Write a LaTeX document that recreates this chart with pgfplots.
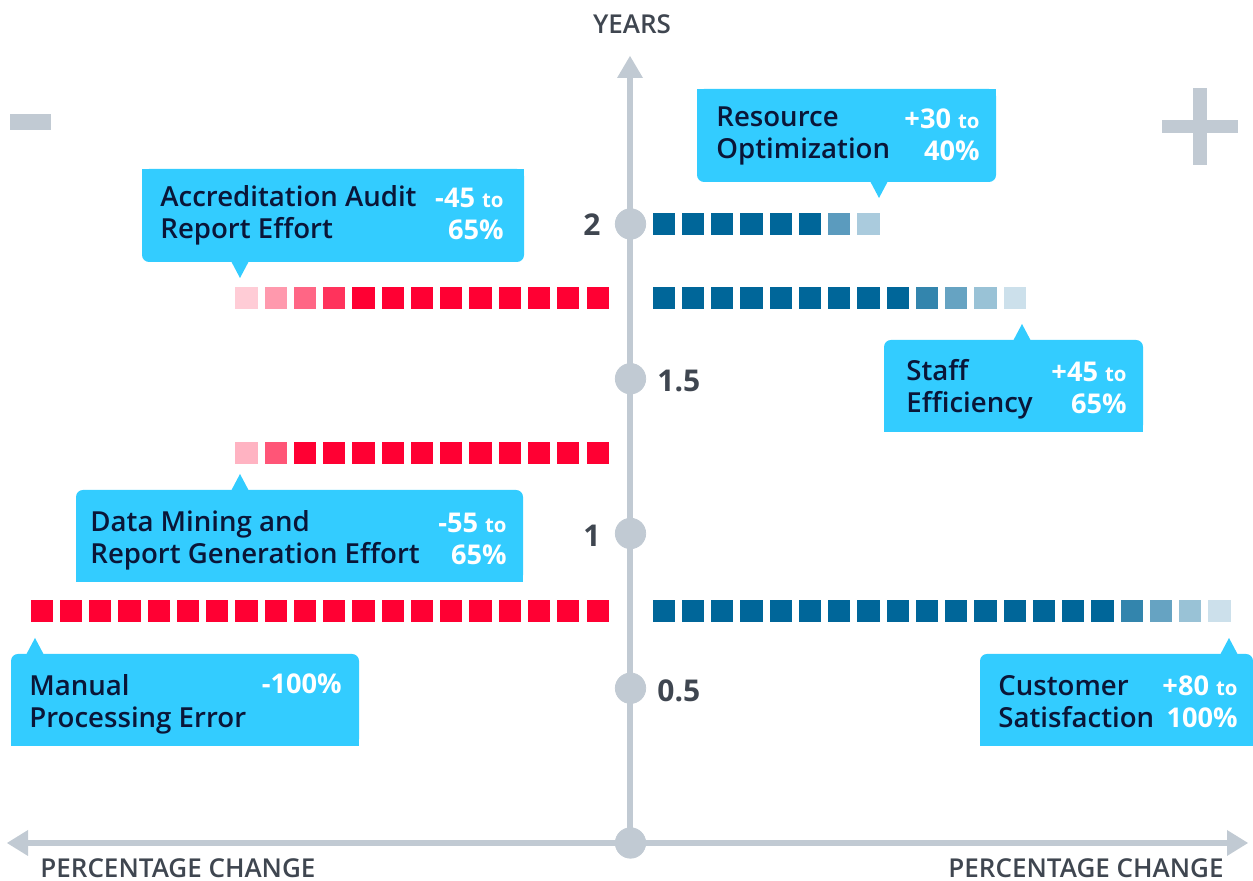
\documentclass[border=0pt]{standalone}
\usepackage{fontspec}
\setmainfont{Open Sans}
\IfFontExistsTF{Open Sans SemiBold}{\newfontfamily\semib{Open Sans SemiBold}}{%
  \IfFontExistsTF{Open Sans Semibold}{\newfontfamily\semib{Open Sans Semibold}}{%
    \newfontfamily\semib{Open Sans}[FakeBold=1.2]}}
\usepackage{pgfplots}
\pgfplotsset{compat=1.18}

\definecolor{axgray}{HTML}{C1CAD3}
\definecolor{dblue}{HTML}{006699}
\definecolor{bA}{HTML}{3385AD}
\definecolor{bB}{HTML}{66A3C2}
\definecolor{bC}{HTML}{99C2D6}
\definecolor{bD}{HTML}{CCE0EB}
\definecolor{rbA}{HTML}{5B9BBE}
\definecolor{rbB}{HTML}{AACBDD}
\definecolor{red1}{HTML}{FF0033}
\definecolor{rA}{HTML}{FF335C}
\definecolor{rB}{HTML}{FF6685}
\definecolor{rC}{HTML}{FF99AD}
\definecolor{rD}{HTML}{FFCCD6}
\definecolor{dmA}{HTML}{FF5577}
\definecolor{dmB}{HTML}{FFB3C2}
\definecolor{callout}{HTML}{33CCFF}
\definecolor{navy}{HTML}{0A1638}
\definecolor{txtgray}{HTML}{3F4650}

% pointer below the box
\newcommand{\calloutdown}[5]{%
  \fill[callout, rounded corners=3.5pt] (#1,#2) rectangle (#3,#4);
  \fill[callout] (#1,#2) rectangle (#3,{(#2+#4)/2});
  \fill[callout] ({#5-9},{#4-1}) -- (#5,{#4+16}) -- ({#5+9},{#4-1}) -- cycle;}
% pointer above the box
\newcommand{\calloutup}[5]{%
  \fill[callout, rounded corners=3.5pt] (#1,#2) rectangle (#3,#4);
  \fill[callout] (#1,{(#2+#4)/2}) rectangle (#3,#4);
  \fill[callout] ({#5-9},{#2+1}) -- (#5,{#2-16}) -- ({#5+9},{#2+1}) -- cycle;}

\tikzset{
  lbl/.style={anchor=west, align=left, inner sep=0pt, text=navy,
    font=\semib\fontsize{13.8}{16}\selectfont},
  num/.style={anchor=east, align=right, inner sep=0pt, text=white,
    font=\bfseries\fontsize{13.6}{16}\selectfont},
  ttl/.style={text=txtgray, inner sep=0pt, font=\semib\fontsize{13}{14}\selectfont},
  tck/.style={text=txtgray, inner sep=0pt, font=\bfseries\fontsize{15}{16}\selectfont},
}
\newcommand{\smallto}{{\fontsize{10.2}{16}\selectfont to}}

\begin{document}
\begin{tikzpicture}
% pixel coordinate frame: origin top-left, 1px = 0.5pt
\begin{scope}[shift={(0,440.5pt)}, x=0.5pt, y=-0.5pt]
  % axes
  \draw[axgray, line width=2.6pt] (630,843) -- (630,74);
  \fill[axgray] (630,56) -- (617,78) -- (643,78) -- cycle;
  \draw[axgray, line width=2.6pt] (24,843) -- (1231,843);
  \fill[axgray] (7,843) -- (28,830) -- (28,856) -- cycle;
  \fill[axgray] (1248,843) -- (1227,830) -- (1227,856) -- cycle;
  % minus and plus signs
  \fill[axgray] (10,114) rectangle (51,130);
  \fill[axgray] (1193,88) rectangle (1207,165);
  \fill[axgray] (1162,120) rectangle (1238,133);
\end{scope}

\begin{axis}[
  name=ax, at={(0,0)}, anchor=south west,
  scale only axis, width=626.5pt, height=440.5pt,
  xmin=-107.74, xmax=106.37, ymin=-0.1228, ymax=2.7237,
  hide axis, clip=false,
  sq/.style={only marks, color=#1, mark=square*, mark size=5.3pt,
    mark options={draw=#1, fill=#1},
    x filter/.expression={x<0 ? x-0.64 : x+0.64}},
]
% year markers on the vertical axis
\addplot[only marks, color=axgray, mark=*, mark size=7.6pt, mark options={draw=axgray, fill=axgray}]
  coordinates {(0,0) (0,0.5) (0,1) (0,1.5) (0,2)};

% Resource Optimization (+30 to 40%)
\addplot[sq=dblue] coordinates {(5,2)(10,2)(15,2)(20,2)(25,2)(30,2)};
\addplot[sq=rbA] coordinates {(35,2)};
\addplot[sq=rbB] coordinates {(40,2)};

% Staff Efficiency (+45 to 65%)
\addplot[sq=dblue] coordinates {(5,1.76)(10,1.76)(15,1.76)(20,1.76)(25,1.76)(30,1.76)(35,1.76)(40,1.76)(45,1.76)};
\addplot[sq=bA] coordinates {(50,1.76)};
\addplot[sq=bB] coordinates {(55,1.76)};
\addplot[sq=bC] coordinates {(60,1.76)};
\addplot[sq=bD] coordinates {(65,1.76)};

% Customer Satisfaction (+80 to 100%)
\addplot[sq=dblue] coordinates {(5,0.75)(10,0.75)(15,0.75)(20,0.75)(25,0.75)(30,0.75)(35,0.75)(40,0.75)(45,0.75)(50,0.75)(55,0.75)(60,0.75)(65,0.75)(70,0.75)(75,0.75)(80,0.75)};
\addplot[sq=bA] coordinates {(85,0.75)};
\addplot[sq=bB] coordinates {(90,0.75)};
\addplot[sq=bC] coordinates {(95,0.75)};
\addplot[sq=bD] coordinates {(100,0.75)};

% Accreditation Audit Report Effort (-45 to 65%)
\addplot[sq=red1] coordinates {(-5,1.76)(-10,1.76)(-15,1.76)(-20,1.76)(-25,1.76)(-30,1.76)(-35,1.76)(-40,1.76)(-45,1.76)};
\addplot[sq=rA] coordinates {(-50,1.76)};
\addplot[sq=rB] coordinates {(-55,1.76)};
\addplot[sq=rC] coordinates {(-60,1.76)};
\addplot[sq=rD] coordinates {(-65,1.76)};

% Data Mining and Report Generation Effort (-55 to 65%)
\addplot[sq=red1] coordinates {(-5,1.26)(-10,1.26)(-15,1.26)(-20,1.26)(-25,1.26)(-30,1.26)(-35,1.26)(-40,1.26)(-45,1.26)(-50,1.26)(-55,1.26)};
\addplot[sq=dmA] coordinates {(-60,1.26)};
\addplot[sq=dmB] coordinates {(-65,1.26)};

% Manual Processing Error (-100%)
\addplot[sq=red1] coordinates {(-5,0.75)(-10,0.75)(-15,0.75)(-20,0.75)(-25,0.75)(-30,0.75)(-35,0.75)(-40,0.75)(-45,0.75)(-50,0.75)(-55,0.75)(-60,0.75)(-65,0.75)(-70,0.75)(-75,0.75)(-80,0.75)(-85,0.75)(-90,0.75)(-95,0.75)(-100,0.75)};
\end{axis}

\begin{scope}[shift={(0,440.5pt)}, x=0.5pt, y=-0.5pt]
  % axis titles
  \node[ttl] at (632,24) {YEARS};
  \node[ttl, anchor=west] at (40,868) {PERCENTAGE CHANGE};
  \node[ttl, anchor=east] at (1224,868) {PERCENTAGE CHANGE};
  % year tick labels
  \node[tck, anchor=east] at (601,225) {2};
  \node[tck, anchor=west] at (657,381) {1.5};
  \node[tck, anchor=east] at (601,536) {1};
  \node[tck, anchor=west] at (657,691) {0.5};

  % callouts
  \calloutdown{697}{89}{996}{182}{879}
  \node[lbl] at (716,136) {Resource\\Optimization};
  \node[num] at (980,135) {+30 \smallto\\40\%};

  \calloutdown{142}{169}{524}{262}{240}
  \node[lbl] at (160,215) {Accreditation Audit\\Report Effort};
  \node[num] at (504,214) {-45 \smallto\\65\%};

  \calloutup{884}{340}{1143}{432}{1022}
  \node[lbl] at (906,389) {Staff\\Efficiency};
  \node[num] at (1127,388) {+45 \smallto\\65\%};

  \calloutup{76}{490}{523}{582}{240}
  \node[lbl] at (90,540) {Data Mining and\\Report Generation Effort};
  \node[num] at (507,539) {-55 \smallto\\65\%};

  \calloutup{11}{654}{359}{746}{35}
  \node[lbl] at (29,704) {Manual\\Processing Error};
  \node[num, anchor=north east] at (342,673) {-100\%};

  \calloutup{980}{654}{1253}{746}{1229}
  \node[lbl] at (998,702) {Customer\\Satisfaction};
  \node[num] at (1238,702) {+80 \smallto\\100\%};
\end{scope}
\pgfresetboundingbox
\path[use as bounding box] (0,0) rectangle (626.5pt,440.5pt);
\end{tikzpicture}
\end{document}
